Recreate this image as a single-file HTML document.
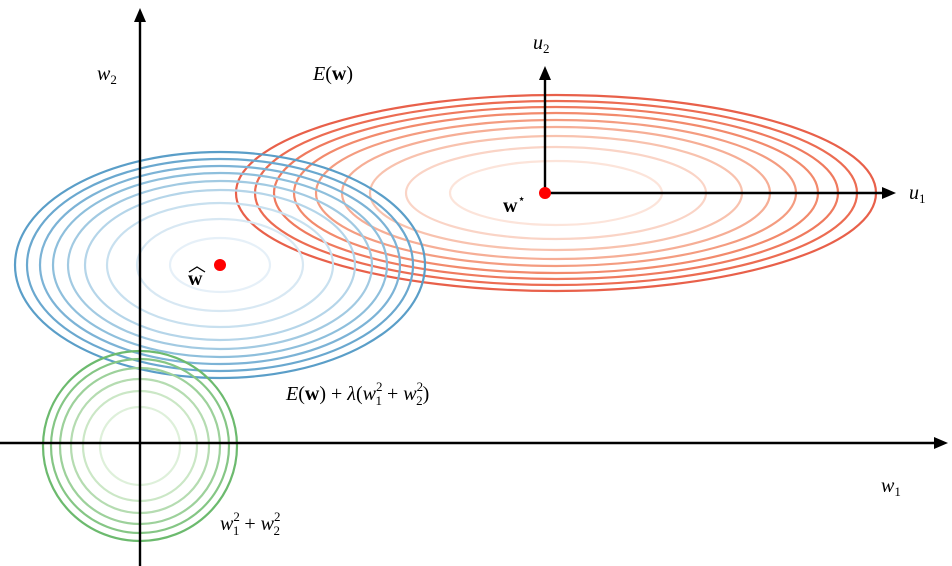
<!DOCTYPE html>
<html><head><meta charset="utf-8"><style>
html,body{margin:0;padding:0;background:#fff}
svg{display:block}
text{font-family:"Liberation Serif",serif;font-size:20px;fill:#000}
.i{font-style:italic}
</style></head><body>
<svg width="952" height="566" viewBox="0 0 952 566" xmlns="http://www.w3.org/2000/svg">
<g fill="none" stroke-width="2.2">
<ellipse cx="556" cy="193" rx="320" ry="98" stroke="#e8604a"/>
<ellipse cx="556" cy="193" rx="301" ry="92" stroke="#ec6c52"/>
<ellipse cx="556" cy="193" rx="282" ry="86" stroke="#ef7a5e"/>
<ellipse cx="556" cy="193" rx="262" ry="80" stroke="#f28a6c"/>
<ellipse cx="556" cy="193" rx="240" ry="73" stroke="#f49c80"/>
<ellipse cx="556" cy="193" rx="214" ry="66" stroke="#f6ae96"/>
<ellipse cx="556" cy="193" rx="186" ry="57" stroke="#f8c2ae"/>
<ellipse cx="556" cy="193" rx="150" ry="46" stroke="#fad4c6"/>
<ellipse cx="556" cy="193" rx="106" ry="32" stroke="#fce4da"/>
<ellipse cx="220" cy="265" rx="205" ry="113" stroke="#5a9ec8"/>
<ellipse cx="220" cy="265" rx="193" ry="106" stroke="#6aa8cf"/>
<ellipse cx="220" cy="265" rx="180" ry="99" stroke="#7cb3d6"/>
<ellipse cx="220" cy="265" rx="167" ry="92" stroke="#8ebfdc"/>
<ellipse cx="220" cy="265" rx="152" ry="84" stroke="#a2cae2"/>
<ellipse cx="220" cy="265" rx="135" ry="75" stroke="#b5d5e9"/>
<ellipse cx="220" cy="265" rx="113" ry="62" stroke="#c8e0ef"/>
<ellipse cx="220" cy="265" rx="83" ry="46" stroke="#d8e8f3"/>
<ellipse cx="220" cy="265" rx="50" ry="27" stroke="#e6f0f8"/>
<ellipse cx="140" cy="446" rx="97" ry="95" stroke="#6cba6e"/>
<ellipse cx="140" cy="446" rx="89" ry="87" stroke="#85c685"/>
<ellipse cx="140" cy="446" rx="80" ry="78" stroke="#9dd19b"/>
<ellipse cx="140" cy="446" rx="69" ry="67" stroke="#b5dcb1"/>
<ellipse cx="140" cy="446" rx="57" ry="55" stroke="#cbe7c6"/>
<ellipse cx="140" cy="446" rx="40" ry="39" stroke="#def0da"/>
</g>
<g stroke="#000" stroke-width="2.4" fill="#000">
<line x1="140" y1="566" x2="140" y2="18"/>
<polygon points="140,8 134,22 146,22" stroke="none"/>
<line x1="0" y1="443" x2="938" y2="443"/>
<polygon points="948,443 934,437 934,449" stroke="none"/>
<line x1="545" y1="193" x2="545" y2="78"/>
<polygon points="545,66 539,80 551,80" stroke="none"/>
<line x1="545" y1="193" x2="884" y2="193"/>
<polygon points="896,193 882,187 882,199" stroke="none"/>
</g>
<circle cx="545" cy="193" r="6" fill="#f00"/>
<circle cx="220" cy="265" r="6" fill="#f00"/>
<text x="97" y="80" class="i">w<tspan font-size="13" dy="4" font-style="normal">2</tspan></text>
<text x="313" y="80"><tspan class="i">E</tspan>(<tspan font-weight="bold">w</tspan>)</text>
<text x="533" y="49" class="i">u<tspan font-size="13" dy="4" font-style="normal">2</tspan></text>
<text x="909" y="199" class="i">u<tspan font-size="13" dy="4" font-style="normal">1</tspan></text>
<text x="503" y="212" font-weight="bold">w<tspan font-size="13" dy="-9" font-weight="normal">⋆</tspan></text>
<text x="188" y="285" font-weight="bold">w</text>
<path d="M189,272 L197,267 L205,272" fill="none" stroke="#000" stroke-width="1.3"/>
<text x="286" y="400"><tspan class="i">E</tspan>(<tspan font-weight="bold">w</tspan>) + <tspan class="i">λ</tspan>(<tspan class="i">w</tspan><tspan font-size="13" dy="-9">2</tspan><tspan font-size="13" dx="-7" dy="14">1</tspan><tspan dy="-5"> + </tspan><tspan class="i">w</tspan><tspan font-size="13" dy="-9">2</tspan><tspan font-size="13" dx="-7" dy="14">2</tspan><tspan dy="-5">)</tspan></text>
<text x="881" y="492" class="i">w<tspan font-size="13" dy="4" font-style="normal">1</tspan></text>
<text x="220" y="530"><tspan class="i">w</tspan><tspan font-size="13" dy="-9">2</tspan><tspan font-size="13" dx="-7" dy="14">1</tspan><tspan dy="-5"> + </tspan><tspan class="i">w</tspan><tspan font-size="13" dy="-9">2</tspan><tspan font-size="13" dx="-7" dy="14">2</tspan></text>
</svg>
</body></html>
